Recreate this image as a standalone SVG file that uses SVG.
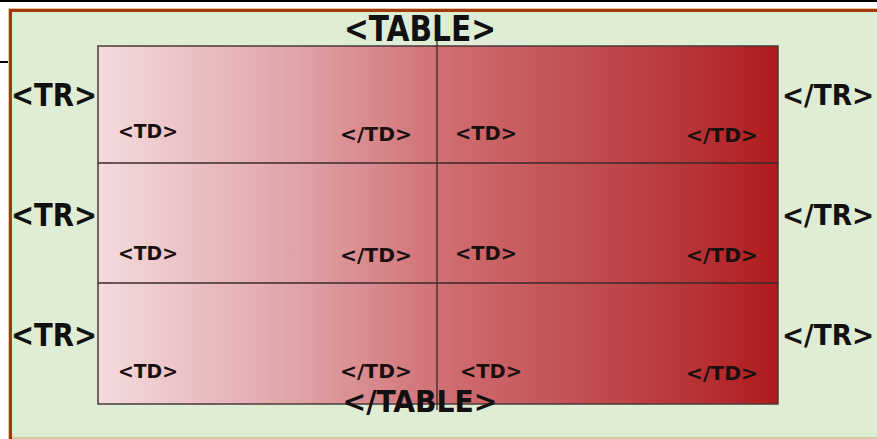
<svg xmlns="http://www.w3.org/2000/svg" width="877" height="439" viewBox="0 0 877 439">
<defs>
<linearGradient id="cellgrad" x1="98" y1="0" x2="778" y2="0" gradientUnits="userSpaceOnUse">
<stop offset="0" stop-color="#f3dbde"/>
<stop offset="0.3" stop-color="#e0a2a6"/>
<stop offset="0.52" stop-color="#cf6c70"/>
<stop offset="0.85" stop-color="#b8383c"/>
<stop offset="1" stop-color="#b01a1c"/>
</linearGradient>
</defs>
<style>
.big{font-family:"DejaVu Sans Condensed","DejaVu Sans",sans-serif;font-weight:bold;font-stretch:condensed;font-size:36px;fill:#111}
.tr{font-family:"DejaVu Sans Condensed","DejaVu Sans",sans-serif;font-weight:bold;font-stretch:condensed;font-size:32px;fill:#111}
.tre{text-anchor:end;font-size:28px}
.td{font-family:"DejaVu Sans Condensed","DejaVu Sans",sans-serif;font-weight:bold;font-stretch:condensed;font-size:20px;fill:#1a1010}
.grid{stroke:#3a2a2a;stroke-width:1.3;fill:none}
</style>
<rect width="877" height="439" fill="#ffffff"/>
<line x1="0" y1="1" x2="877" y2="1" stroke="#000" stroke-width="2"/>
<line x1="0" y1="62" x2="10" y2="62" stroke="#000" stroke-width="2"/>
<rect x="8" y="8" width="869" height="431" fill="#e8c4a8"/>
<rect x="9" y="9" width="868" height="430" fill="#a33a0c"/>
<rect x="12" y="12" width="865" height="427" fill="#dfedd4"/>
<line x1="12" y1="438" x2="877" y2="438" stroke="#d8c8a0" stroke-width="2"/>
<g id="table">
<rect x="98" y="46" width="680" height="358" fill="url(#cellgrad)" stroke="#4a3a3a" stroke-width="1.5"/>
</g>
<g id="connectors">
<line class="grid" x1="98" y1="163" x2="778" y2="163"/>
<line class="grid" x1="98" y1="283" x2="778" y2="283"/>
<line class="grid" x1="437" y1="14" x2="437" y2="410"/>
</g>
<g id="labels-table">
<text class="big" x="420" y="41" text-anchor="middle" textLength="152" lengthAdjust="spacingAndGlyphs">&lt;TABLE&gt;</text>
<text class="big" x="420" y="412" text-anchor="middle" textLength="155" lengthAdjust="spacingAndGlyphs" style="font-size:30px">&lt;/TABLE&gt;</text>
</g>
<g id="row1">
<text class="tr" x="11" y="106" textLength="86" lengthAdjust="spacingAndGlyphs">&lt;TR&gt;</text>
<text class="tr tre" x="874" y="105" textLength="92" lengthAdjust="spacingAndGlyphs">&lt;/TR&gt;</text>
<text class="td" x="118" y="138" textLength="60" lengthAdjust="spacingAndGlyphs">&lt;TD&gt;</text>
<text class="td" x="340" y="141" textLength="72" lengthAdjust="spacingAndGlyphs">&lt;/TD&gt;</text>
<text class="td" x="455" y="140" textLength="62" lengthAdjust="spacingAndGlyphs">&lt;TD&gt;</text>
<text class="td" x="686" y="142" textLength="72" lengthAdjust="spacingAndGlyphs">&lt;/TD&gt;</text>
</g>
<g id="row2">
<text class="tr" x="11" y="226" textLength="86" lengthAdjust="spacingAndGlyphs">&lt;TR&gt;</text>
<text class="tr tre" x="874" y="225" textLength="92" lengthAdjust="spacingAndGlyphs">&lt;/TR&gt;</text>
<text class="td" x="118" y="260" textLength="60" lengthAdjust="spacingAndGlyphs">&lt;TD&gt;</text>
<text class="td" x="340" y="262" textLength="72" lengthAdjust="spacingAndGlyphs">&lt;/TD&gt;</text>
<text class="td" x="455" y="260" textLength="62" lengthAdjust="spacingAndGlyphs">&lt;TD&gt;</text>
<text class="td" x="686" y="262" textLength="72" lengthAdjust="spacingAndGlyphs">&lt;/TD&gt;</text>
</g>
<g id="row3">
<text class="tr" x="11" y="346" textLength="86" lengthAdjust="spacingAndGlyphs">&lt;TR&gt;</text>
<text class="tr tre" x="874" y="345" textLength="92" lengthAdjust="spacingAndGlyphs">&lt;/TR&gt;</text>
<text class="td" x="118" y="378" textLength="60" lengthAdjust="spacingAndGlyphs">&lt;TD&gt;</text>
<text class="td" x="340" y="378" textLength="72" lengthAdjust="spacingAndGlyphs">&lt;/TD&gt;</text>
<text class="td" x="460" y="378" textLength="62" lengthAdjust="spacingAndGlyphs">&lt;TD&gt;</text>
<text class="td" x="686" y="380" textLength="72" lengthAdjust="spacingAndGlyphs">&lt;/TD&gt;</text>
</g>
</svg>
